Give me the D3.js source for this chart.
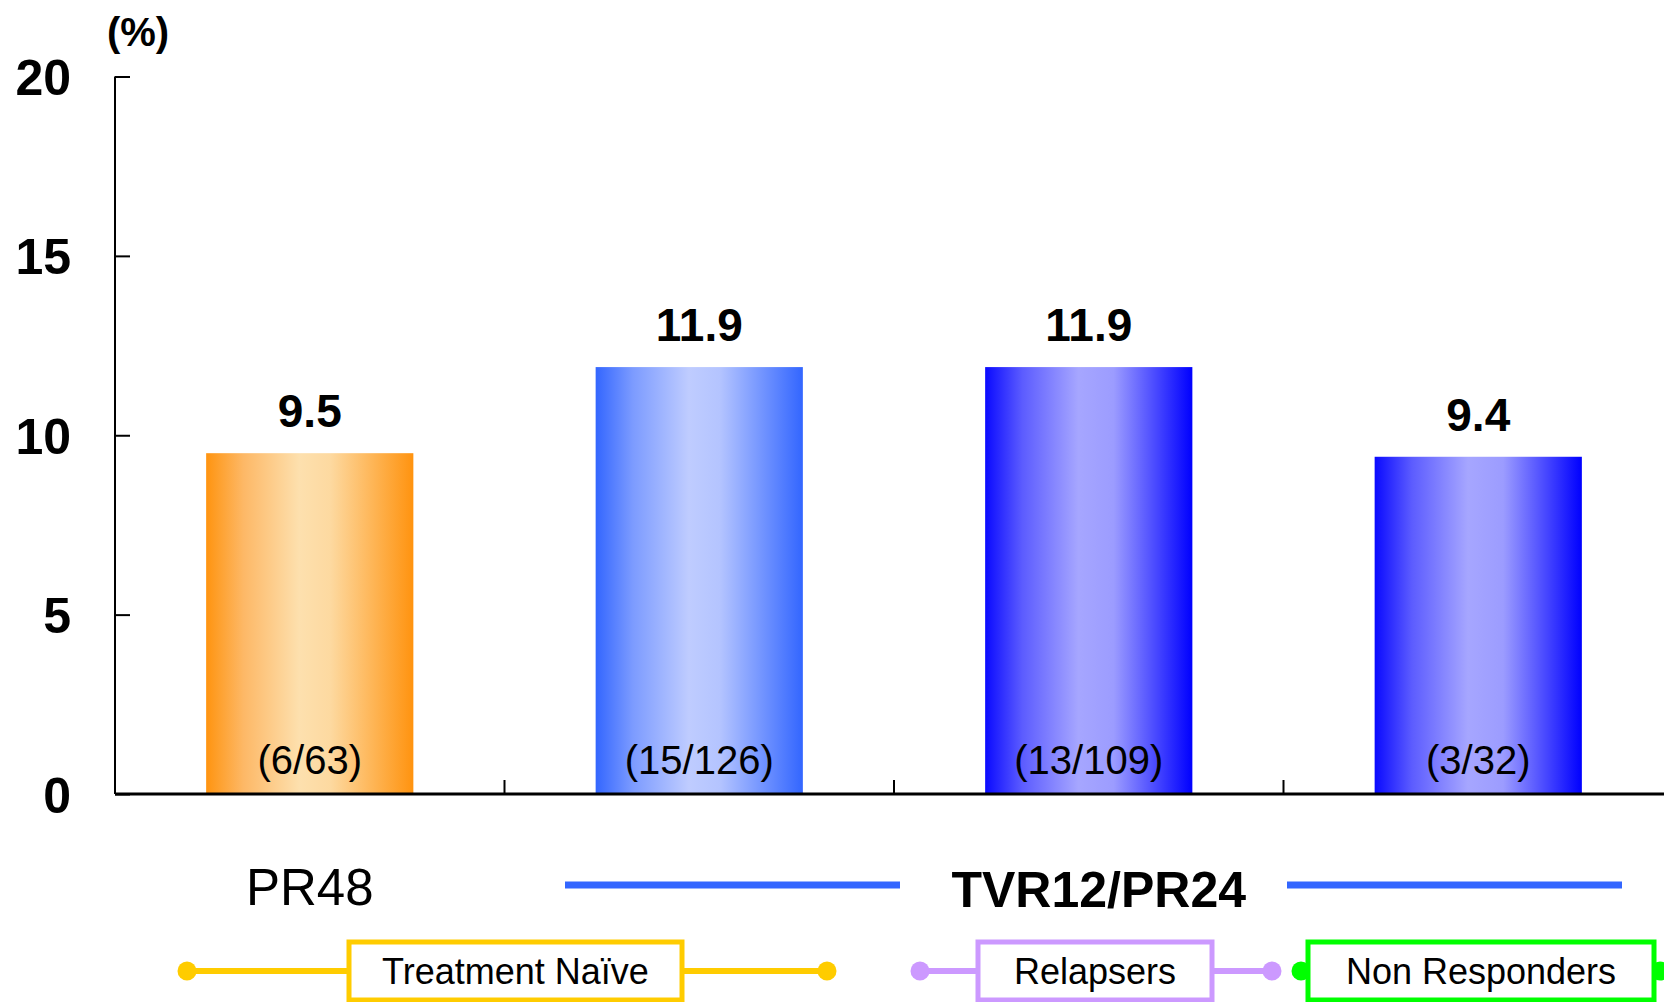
<!DOCTYPE html>
<html>
<head>
<meta charset="utf-8">
<script src="https://cdn.jsdelivr.net/npm/d3@7"></script>
<style>
  html, body { margin: 0; padding: 0; background: #fff; }
  svg { display: block; }
  text { font-family: "Liberation Sans", Arial, sans-serif; fill: #000; }
</style>
</head>
<body>
<svg id="chart" width="1664" height="1002"></svg>
<script>
// ---- data ----
const categories = ["PR48 Treatment Naïve", "TVR12/PR24 Treatment Naïve", "TVR12/PR24 Relapsers", "TVR12/PR24 Non Responders"];
const values = [9.5, 11.9, 11.9, 9.4];
const counts = ["(6/63)", "(15/126)", "(13/109)", "(3/32)"];
const yTicks = [0, 5, 10, 15, 20];
const regimens = ["PR48", "TVR12/PR24"];
const groups = ["Treatment Naïve", "Relapsers", "Non Responders"];
const unitLabel = "(%)";

// ---- styles ----
const gradStops = [
  [["0%", "#ff9410"], ["18%", "#fdb866"], ["45%", "#fde0ae"], ["60%", "#fdd9a0"], ["100%", "#ff930f"]],
  [["0%", "#3366ff"], ["18%", "#7c9bff"], ["45%", "#bfccff"], ["60%", "#b4c4ff"], ["100%", "#3366ff"]],
  [["0%", "#0a0aff"], ["18%", "#5c5cff"], ["45%", "#a6a6ff"], ["62%", "#9c9cff"], ["100%", "#0000ff"]],
  [["0%", "#0a0aff"], ["18%", "#5c5cff"], ["45%", "#a6a6ff"], ["62%", "#9c9cff"], ["100%", "#0000ff"]]
];
const groupColors = ["#ffcc00", "#cc99ff", "#00ff00"];
const lineBlue = "#3366ff";

const svg = d3.select("#chart");
const x0 = 115, baseY = 794, topY = 76.5, step = 389.5;

const x = d3.scaleBand().domain(categories)
  .range([x0, x0 + step * categories.length])
  .paddingInner(0.468).paddingOuter(0.234);
const y = d3.scaleLinear().domain([0, 20]).range([baseY, topY]);

// gradients
const defs = svg.append("defs");
gradStops.forEach((stops, i) => {
  const g = defs.append("linearGradient").attr("id", "g" + i)
    .attr("x1", "0%").attr("x2", "100%").attr("y1", "0%").attr("y2", "0%");
  stops.forEach(s => g.append("stop").attr("offset", s[0]).attr("stop-color", s[1]));
});

// bars
svg.append("g").selectAll("rect").data(values).join("rect")
  .attr("x", (d, i) => x(categories[i]))
  .attr("width", x.bandwidth())
  .attr("y", d => y(d))
  .attr("height", d => y(0) - y(d))
  .attr("fill", (d, i) => `url(#g${i})`);

// y axis
const yAxis = d3.axisLeft(y).tickValues(yTicks).tickSize(-15).tickPadding(44).tickFormat(d3.format("d"));
const gy = svg.append("g").attr("transform", `translate(${x0},0)`).call(yAxis);
gy.select(".domain").attr("stroke", "#000").attr("stroke-width", 2).attr("d", `M0,${topY}V${baseY}`);
gy.selectAll(".tick line").attr("stroke", "#000").attr("stroke-width", 2);
gy.selectAll(".tick text").attr("font-size", 50).attr("font-weight", "bold")
  .attr("font-family", "Liberation Sans, Arial, sans-serif").attr("fill", "#000").attr("dy", "0.36em");

// x axis baseline + separators
const bandEdges = categories.slice(1).map(c => x(c) - (x.step() - x.bandwidth()) / 2);
svg.append("line").attr("x1", x0).attr("x2", 1664).attr("y1", baseY).attr("y2", baseY)
  .attr("stroke", "#000").attr("stroke-width", 3);
svg.append("g").selectAll("line").data(bandEdges).join("line")
  .attr("x1", d => d).attr("x2", d => d).attr("y1", baseY).attr("y2", baseY - 14)
  .attr("stroke", "#000").attr("stroke-width", 2);

// unit label
svg.append("text").attr("x", 138).attr("y", 46).attr("text-anchor", "middle")
  .attr("font-size", 40).attr("font-weight", "bold").text(unitLabel);

// value labels
svg.append("g").selectAll("text").data(values).join("text")
  .attr("x", (d, i) => x(categories[i]) + x.bandwidth() / 2)
  .attr("y", d => y(d) - 26)
  .attr("text-anchor", "middle").attr("font-size", 46).attr("font-weight", "bold")
  .text(d => d.toFixed(1));

// counts
svg.append("g").selectAll("text").data(counts).join("text")
  .attr("x", (d, i) => x(categories[i]) + x.bandwidth() / 2)
  .attr("y", baseY - 20)
  .attr("text-anchor", "middle").attr("font-size", 40)
  .text(d => d);

// regimen labels
const cx = i => x(categories[i]) + x.bandwidth() / 2;
svg.append("text").attr("x", cx(0)).attr("y", 905).attr("text-anchor", "middle")
  .attr("font-size", 51).text(regimens[0]);
const tvrX = (cx(1) + cx(3)) / 2 + 10;
svg.append("text").attr("x", tvrX).attr("y", 907).attr("text-anchor", "middle")
  .attr("font-size", 50).attr("font-weight", "bold").text(regimens[1]);
[[565, 900], [1287, 1622]].forEach(([a, b]) => {
  svg.append("line").attr("x1", a).attr("x2", b).attr("y1", 885).attr("y2", 885)
    .attr("stroke", lineBlue).attr("stroke-width", 7);
});

// group brackets
const ly = 971;
const groupLayout = [
  { dots: [187, 827], box: [349, 682] },
  { dots: [920, 1272], box: [978, 1212] },
  { dots: [1301, 1660], box: [1308, 1654] }
];
groups.forEach((name, i) => {
  const L = groupLayout[i], c = groupColors[i];
  const g = svg.append("g");
  g.append("line").attr("x1", L.dots[0]).attr("x2", L.dots[1]).attr("y1", ly).attr("y2", ly)
    .attr("stroke", c).attr("stroke-width", 6);
  L.dots.forEach(d => g.append("circle").attr("cx", d).attr("cy", ly).attr("r", 9.5).attr("fill", c));
  g.append("rect").attr("x", L.box[0]).attr("y", 942).attr("width", L.box[1] - L.box[0]).attr("height", 58)
    .attr("fill", "#fff").attr("stroke", c).attr("stroke-width", 5);
  g.append("text").attr("x", (L.box[0] + L.box[1]) / 2).attr("y", ly + 13).attr("text-anchor", "middle")
    .attr("font-size", 36).text(name);
});
</script>
</body>
</html>
